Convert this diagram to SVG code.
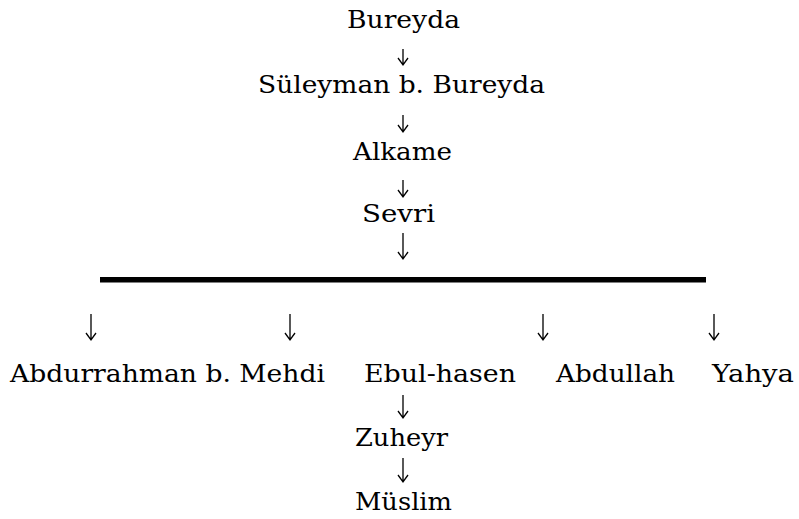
<svg xmlns="http://www.w3.org/2000/svg" width="799" height="519" viewBox="0 0 799 519">
<style>
.t{font-family:"DejaVu Serif","Liberation Serif",serif;font-size:24.5px;fill:#000}
.c{fill:none;stroke:#000;stroke-width:1.3}
</style>
<rect width="799" height="519" fill="#fff"/>
<g id="connectors">
<path class="c" d="M403 49V65M398 58L403 65L408 58"/>
<path class="c" d="M403 115V132M398 125L403 132L408 125"/>
<path class="c" d="M403 180V197M398 190L403 197L408 190"/>
<path class="c" d="M403 233V259M398 252L403 259L408 252"/>
<rect x="100" y="277" width="606" height="5.5" fill="#000"/>
<path class="c" d="M91 314V340M86 333L91 340L96 333"/>
<path class="c" d="M290 314V340M285 333L290 340L295 333"/>
<path class="c" d="M543 314V340M538 333L543 340L548 333"/>
<path class="c" d="M714 314V340M709 333L714 340L719 333"/>
<path class="c" d="M403 395V418M398 411L403 418L408 411"/>
<path class="c" d="M403 458V482M398 475L403 482L408 475"/>
</g>
<g id="bureyda"><text class="t" x="347" y="28" textLength="113" lengthAdjust="spacingAndGlyphs">Bureyda</text></g>
<g id="suleyman"><text class="t" x="258" y="93" textLength="287" lengthAdjust="spacingAndGlyphs">Süleyman b. Bureyda</text></g>
<g id="alkame"><text class="t" x="353" y="160" textLength="99" lengthAdjust="spacingAndGlyphs">Alkame</text></g>
<g id="sevri"><text class="t" x="362" y="222" textLength="73" lengthAdjust="spacingAndGlyphs">Sevri</text></g>
<g id="abdurrahman"><text class="t" x="10" y="382" textLength="315" lengthAdjust="spacingAndGlyphs">Abdurrahman b. Mehdi</text></g>
<g id="ebulhasen"><text class="t" x="364" y="382" textLength="152" lengthAdjust="spacingAndGlyphs">Ebul-hasen</text></g>
<g id="abdullah"><text class="t" x="556" y="382" textLength="119" lengthAdjust="spacingAndGlyphs">Abdullah</text></g>
<g id="yahya"><text class="t" x="712" y="382" textLength="82" lengthAdjust="spacingAndGlyphs">Yahya</text></g>
<g id="zuheyr"><text class="t" x="355" y="446" textLength="93" lengthAdjust="spacingAndGlyphs">Zuheyr</text></g>
<g id="muslim"><text class="t" x="355" y="510" textLength="97" lengthAdjust="spacingAndGlyphs">Müslim</text></g>
</svg>
